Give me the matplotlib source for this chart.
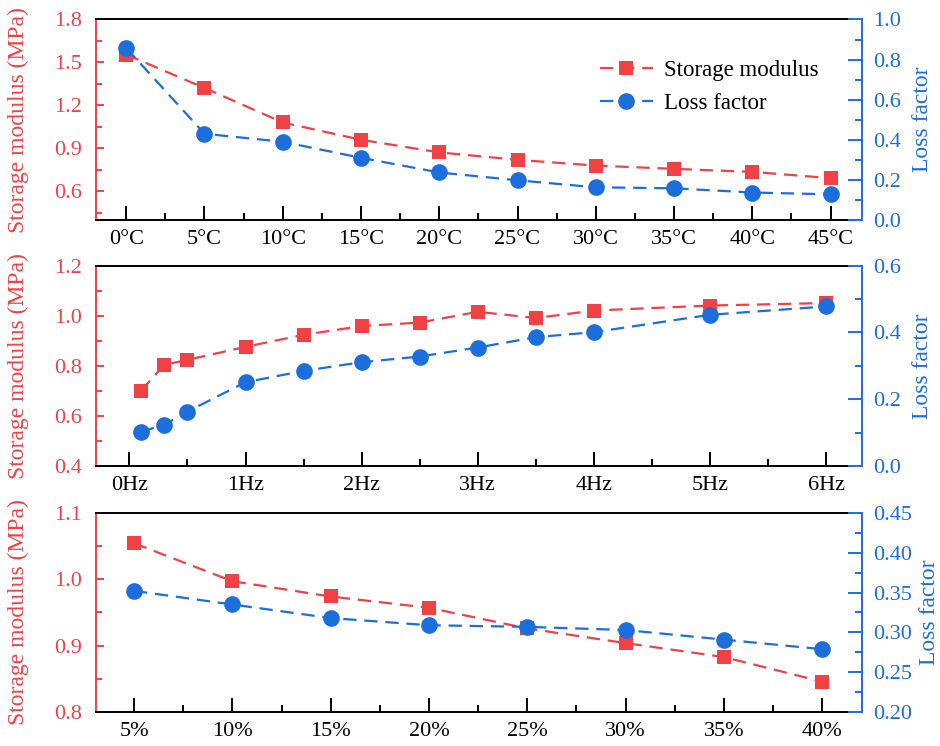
import numpy as np
import matplotlib
matplotlib.use("Agg")
import matplotlib.pyplot as plt
from matplotlib.ticker import MultipleLocator, FormatStrFormatter

plt.rcParams["font.family"] = ["Liberation Serif", "DejaVu Serif"]

# ---------------------------------------------------------------------------
# Data
# ---------------------------------------------------------------------------
temp_c = [0, 5, 10, 15, 20, 25, 30, 35, 40, 45]
temp_storage = [1.555, 1.322, 1.081, 0.960, 0.872, 0.820, 0.780, 0.757, 0.736, 0.692]
temp_loss = [0.858, 0.430, 0.390, 0.310, 0.237, 0.198, 0.163, 0.158, 0.137, 0.128]
temp_ticklabels = ["0°C", "5°C", "10°C", "15°C", "20°C", "25°C", "30°C", "35°C", "40°C", "45°C"]

freq_hz = [0.1, 0.3, 0.5, 1.0, 1.5, 2.0, 2.5, 3.0, 3.5, 4.0, 5.0, 6.0]
freq_storage = [0.701, 0.804, 0.824, 0.876, 0.924, 0.959, 0.973, 1.016, 0.991, 1.021, 1.041, 1.051]
freq_loss = [0.103, 0.123, 0.163, 0.251, 0.285, 0.311, 0.328, 0.355, 0.386, 0.401, 0.453, 0.478]
freq_ticks = [0, 1, 2, 3, 4, 5, 6]
freq_ticklabels = ["0Hz", "1Hz", "2Hz", "3Hz", "4Hz", "5Hz", "6Hz"]

strain_pct = [5, 10, 15, 20, 25, 30, 35, 40]
strain_storage = [1.054, 0.997, 0.974, 0.957, 0.926, 0.904, 0.883, 0.846]
strain_loss = [0.352, 0.335, 0.318, 0.309, 0.307, 0.303, 0.291, 0.279]
strain_ticklabels = ["5%", "10%", "15%", "20%", "25%", "30%", "35%", "40%"]

# ---------------------------------------------------------------------------
# Style
# ---------------------------------------------------------------------------
RED = "#F04245"
BLUE = "#1C6EDD"
FS = 16
FS_LABEL = 17
LW_SPINE = 1.4
DASH = (6, 3.5)

fig = plt.figure(figsize=(9.4, 7.46), dpi=100)
fig.patch.set_facecolor("white")

LEFT, WIDTH = 0.1018, 0.8043
panels = [
    dict(rect=[LEFT, 0.7051, WIDTH, 0.2688],
         x=temp_c, s=temp_storage, l=temp_loss,
         xticks=temp_c, xlabels=temp_ticklabels, xminor=2.5, xlim=(-1.95, 46.35),
         ylim=(0.4, 1.8), ymaj=0.3, ymin=0.15, yfmt="%.1f",
         rlim=(0.0, 1.0), rmaj=0.2, rmin=0.1, rfmt="%.1f", rlab_x=1.080),
    dict(rect=[LEFT, 0.3753, WIDTH, 0.2685],
         x=freq_hz, s=freq_storage, l=freq_loss,
         xticks=freq_ticks, xlabels=freq_ticklabels, xminor=0.5, xlim=(-0.29, 6.22),
         ylim=(0.4, 1.2), ymaj=0.2, ymin=0.1, yfmt="%.1f",
         rlim=(0.0, 0.6), rmaj=0.2, rmin=0.1, rfmt="%.1f", rlab_x=1.080),
    dict(rect=[LEFT, 0.0452, WIDTH, 0.2676],
         x=strain_pct, s=strain_storage, l=strain_loss,
         xticks=strain_pct, xlabels=strain_ticklabels, xminor=2.5, xlim=(3.05, 41.5),
         ylim=(0.8, 1.1), ymaj=0.1, ymin=0.05, yfmt="%.1f",
         rlim=(0.20, 0.45), rmaj=0.05, rmin=0.025, rfmt="%.2f", rlab_x=1.089),
]

for i, p in enumerate(panels):
    ax = fig.add_axes(p["rect"])
    ax2 = ax.twinx()

    l1, = ax.plot(p["x"], p["s"], color=RED, lw=1.6, dashes=DASH,
                  marker="s", markersize=10.5, markeredgewidth=0,
                  label="Storage modulus")
    l2, = ax2.plot(p["x"], p["l"], color=BLUE, lw=1.6, dashes=DASH,
                   marker="o", markersize=12, markeredgewidth=0,
                   label="Loss factor")

    # x axis
    ax.set_xlim(*p["xlim"])
    ax.set_xticks(p["xticks"])
    ax.set_xticklabels(p["xlabels"], fontsize=FS)
    ax.xaxis.set_minor_locator(MultipleLocator(p["xminor"]))
    ax.tick_params(axis="x", which="major", direction="in", length=10,
                   width=LW_SPINE, pad=7, colors="black", top=False)
    ax.tick_params(axis="x", which="minor", direction="in", length=5,
                   width=LW_SPINE, top=False)

    # left y axis
    ax.set_ylim(*p["ylim"])
    ax.yaxis.set_major_locator(MultipleLocator(p["ymaj"]))
    ax.yaxis.set_minor_locator(MultipleLocator(p["ymin"]))
    ax.yaxis.set_major_formatter(FormatStrFormatter(p["yfmt"]))
    ax.tick_params(axis="y", which="major", direction="in", length=6,
                   width=LW_SPINE, pad=10, colors=RED, labelsize=FS)
    ax.tick_params(axis="y", which="minor", direction="in", length=4,
                   width=LW_SPINE, colors=RED)
    ax.set_ylabel("Storage modulus (MPa)", color=RED, fontsize=FS_LABEL)
    ax.yaxis.set_label_coords(-0.088, 0.5)

    # right y axis
    ax2.set_ylim(*p["rlim"])
    ax2.yaxis.set_major_locator(MultipleLocator(p["rmaj"]))
    ax2.yaxis.set_minor_locator(MultipleLocator(p["rmin"]))
    ax2.yaxis.set_major_formatter(FormatStrFormatter(p["rfmt"]))
    ax2.tick_params(axis="y", which="major", direction="in", length=10,
                    width=LW_SPINE, pad=8, colors=BLUE, labelsize=FS)
    ax2.tick_params(axis="y", which="minor", direction="in", length=5,
                    width=LW_SPINE, colors=BLUE)
    ax2.set_ylabel("Loss factor", color=BLUE, fontsize=FS_LABEL)
    ax2.yaxis.set_label_coords(p["rlab_x"], 0.5)

    # spines
    for sp in ("top", "bottom"):
        ax.spines[sp].set_linewidth(LW_SPINE)
        ax.spines[sp].set_color("black")
    ax.spines["left"].set_color(RED)
    ax.spines["left"].set_linewidth(LW_SPINE)
    ax.spines["right"].set_visible(False)
    for sp in ("top", "bottom", "left"):
        ax2.spines[sp].set_visible(False)
    ax2.spines["right"].set_position(("outward", 7.2))
    ax2.spines["right"].set_color(BLUE)
    ax2.spines["right"].set_linewidth(LW_SPINE)

    if i == 0:
        ax2.legend(handles=[l1, l2], loc="upper left",
                   bbox_to_anchor=(0.667, 0.80), frameon=False, fontsize=16.5,
                   borderpad=0, borderaxespad=0, handlelength=2.3,
                   handletextpad=0.5, labelspacing=0.55)

fig.savefig("out.png", dpi=100, facecolor="white")
